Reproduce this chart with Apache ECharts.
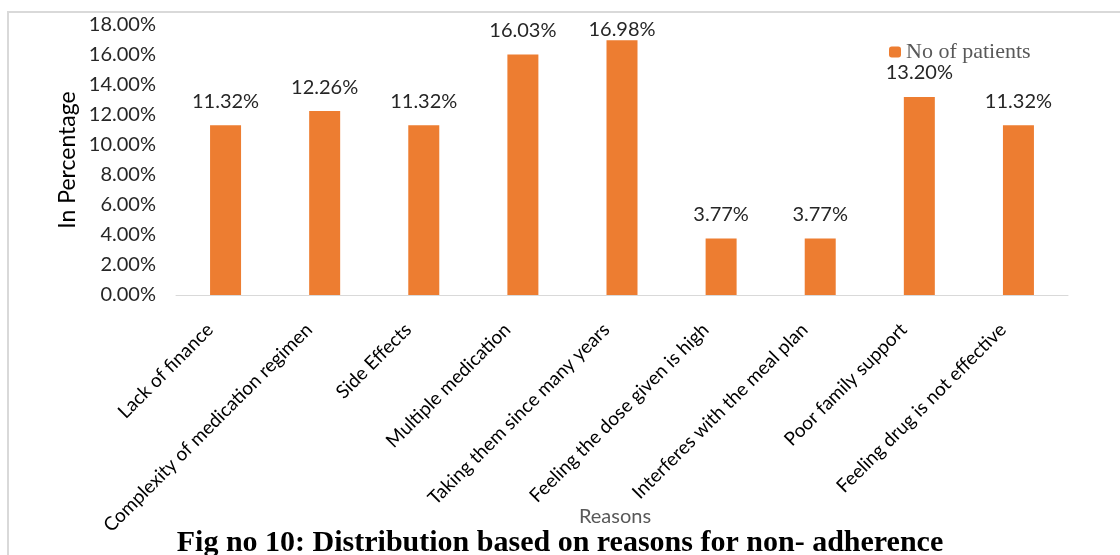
<!DOCTYPE html>
<html>
<head>
<meta charset="utf-8">
<script src="https://cdn.jsdelivr.net/npm/echarts@6/dist/echarts.min.js"></script>
<style>
  html, body { margin: 0; padding: 0; background: #fff; }
  #chart { width: 1120px; height: 555px; }
</style>
</head>
<body>
<div id="chart"></div>
<script>
// reasons for non-adherence
const reasons = [
  'Lack of finance',
  'Complexity of medication regimen',
  'Side Effects',
  'Multiple medication',
  'Taking them since many years',
  'Feeling the dose given is high',
  'Interferes with the meal plan',
  'Poor family support',
  'Feeling drug is not effective'
];
// percentage of patients
const patientPct = [11.32, 12.26, 11.32, 16.03, 16.98, 3.77, 3.77, 13.20, 11.32];
const seriesName = 'No of patients';

const yMin = 0, yMax = 18, yStep = 2;
const labelFont = 'Lato, "Noto Sans", sans-serif';

const chart = echarts.init(document.getElementById('chart'));

const option = {
  backgroundColor: '#ffffff',
  animation: false,
  title: {
    text: 'Fig no 10: Distribution based on reasons for non- adherence',
    left: 'center',
    top: 523,
    textStyle: {
      fontFamily: '"Liberation Serif", serif',
      fontWeight: 'bold',
      fontSize: 30,
      color: '#000'
    }
  },
  legend: {
    data: [seriesName],
    left: 884,
    top: 36,
    itemWidth: 12,
    itemHeight: 11,
    itemGap: 4,
    textStyle: {
      fontFamily: '"Liberation Serif", serif',
      fontSize: 22,
      color: '#595959'
    }
  },
  graphic: [{
    type: 'polyline',
    shape: { points: [[8, 555], [8, 12], [1120, 12]] },
    style: { stroke: '#d9d9d9', lineWidth: 2, fill: null }
  }],
  grid: {
    left: 176,
    right: 52,
    top: 25,
    bottom: 260,
    outerBoundsMode: 'none'
  },
  xAxis: {
    type: 'category',
    data: reasons,
    name: 'Reasons',
    nameLocation: 'middle',
    nameGap: 212,
    nameMoveOverlap: false,
    nameTextStyle: {
      fontFamily: labelFont,
      fontSize: 20,
      color: '#595959',
      padding: [0, 14, 0, 0]
    },
    axisLine: { lineStyle: { color: '#d9d9d9', width: 1 } },
    axisTick: { show: false },
    axisLabel: {
      interval: 0,
      rotate: 45,
      margin: 16,
      padding: [0, 22, 0, 0],
      fontFamily: labelFont,
      fontSize: 19,
      color: '#000'
    }
  },
  yAxis: {
    type: 'value',
    min: yMin,
    max: yMax,
    interval: yStep,
    name: 'In Percentage',
    nameLocation: 'middle',
    nameGap: 97,
    nameMoveOverlap: false,
    nameTextStyle: {
      fontFamily: labelFont,
      fontSize: 23,
      color: '#000'
    },
    axisLine: { show: false },
    axisTick: { show: false },
    splitLine: { show: false },
    axisLabel: {
      margin: 20,
      fontFamily: labelFont,
      fontSize: 20,
      color: '#262626',
      formatter: v => v.toFixed(2) + '%'
    }
  },
  series: [{
    name: seriesName,
    type: 'bar',
    barWidth: 31,
    itemStyle: { color: '#ED7D31' },
    label: {
      show: true,
      position: 'top',
      distance: 14,
      fontFamily: labelFont,
      fontSize: 20,
      color: '#262626',
      formatter: p => p.value.toFixed(2) + '%'
    },
    // labels near the top of the plot get pushed down onto the bar
    data: patientPct.map(v => v > 16.5 ? { value: v, label: { distance: 1 } } : v)
  }]
};

chart.setOption(option);
</script>
</body>
</html>
